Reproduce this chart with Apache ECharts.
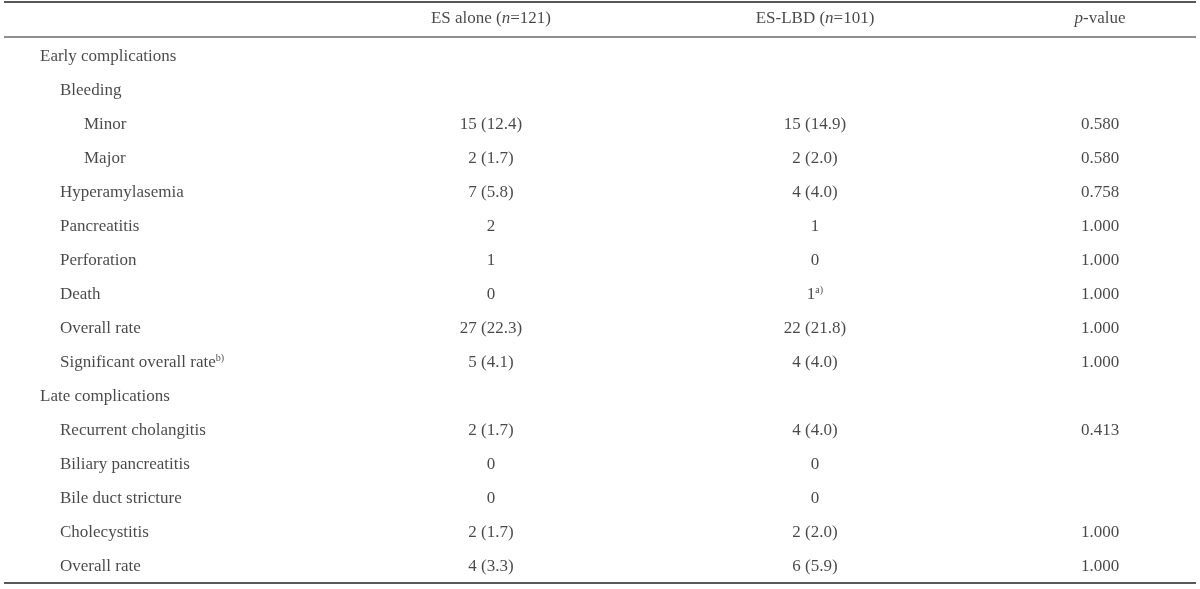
<!DOCTYPE html>
<html><head><meta charset="utf-8">
<script src="https://cdn.jsdelivr.net/npm/echarts@6/dist/echarts.min.js"></script>
<style>html,body{margin:0;background:#fff}#c{width:1200px;height:589px}</style>
</head><body><div id="c"></div>
<script>
const header = ["", "ES alone ({i|n}=121)", "ES-LBD ({i|n}=101)", "{i|p}-value"];
const rowLabels = ["Early complications","Bleeding","Minor","Major","Hyperamylasemia","Pancreatitis","Perforation","Death","Overall rate","Significant overall rate{s|b)}","Late complications","Recurrent cholangitis","Biliary pancreatitis","Bile duct stricture","Cholecystitis","Overall rate"];
const indent = [0,1,2,2,1,1,1,1,1,1,0,1,1,1,1,1];
const esAlone = ["","","15 (12.4)","2 (1.7)","7 (5.8)","2","1","0","27 (22.3)","5 (4.1)","","2 (1.7)","0","0","2 (1.7)","4 (3.3)"];
const esLbd = ["","","15 (14.9)","2 (2.0)","4 (4.0)","1","0","1{s|a)}","22 (21.8)","4 (4.0)","","4 (4.0)","0","0","2 (2.0)","6 (5.9)"];
const pValue = ["","","0.580","0.580","0.758","1.000","1.000","1.000","1.000","1.000","","0.413","","","1.000","1.000"];

const cats = rowLabels.map((_, i) => "r" + i);
const indentPx = [40, 60, 84];
const colX = [491, 815, 1100];
const rich = { i: {fontStyle: "italic", fontFamily: "Liberation Serif", fontSize: 17, color: "#1a1a1a"},
               s: {fontSize: 10, fontFamily: "Liberation Serif", color: "#1a1a1a", verticalAlign: "top", padding: [0,0,8,0]} };
const baseLabel = {show: true, fontFamily: "Liberation Serif", fontSize: 17, color: "#1a1a1a", rich: rich};

const labelData = rowLabels.map((t, i) => ({value: [indentPx[indent[i]], cats[i]], label: {formatter: t}}));
const cellData = [];
[esAlone, esLbd, pValue].forEach((arr, j) => arr.forEach((t, i) => {
  if (t !== "") cellData.push({value: [colX[j], cats[i]], label: {formatter: t}});
}));
const headData = header.slice(1).map((t, j) => ({value: [colX[j], "h"], label: {formatter: t}}));

const chart = echarts.init(document.getElementById("c"));
chart.setOption({
  animation: false,
  grid: [{left: 0, right: 0, top: 40, bottom: 6}, {left: 0, right: 0, top: 2, height: 34}],
  xAxis: [{type: "value", min: 0, max: 1200, show: false, gridIndex: 0},
          {type: "value", min: 0, max: 1200, show: false, gridIndex: 1}],
  yAxis: [{type: "category", data: cats, inverse: true, show: false, gridIndex: 0},
          {type: "category", data: ["h"], show: false, gridIndex: 1}],
  graphic: [
    {type: "line", shape: {x1: 4, y1: 2, x2: 1196, y2: 2}, style: {stroke: "#231f20", lineWidth: 1.5}},
    {type: "line", shape: {x1: 4, y1: 37, x2: 1196, y2: 37}, style: {stroke: "#231f20", lineWidth: 1}},
    {type: "line", shape: {x1: 4, y1: 583, x2: 1196, y2: 583}, style: {stroke: "#231f20", lineWidth: 1.5}}
  ],
  series: [
    {type: "scatter", symbolSize: 0, data: labelData, label: Object.assign({}, baseLabel, {position: "right", distance: 0, align: "left"})},
    {type: "scatter", symbolSize: 0, data: cellData, label: Object.assign({}, baseLabel, {position: "inside", align: "center"})},
    {type: "scatter", symbolSize: 0, xAxisIndex: 1, yAxisIndex: 1, data: headData, label: Object.assign({}, baseLabel, {position: "inside", align: "center"})}
  ]
});
</script></body></html>
